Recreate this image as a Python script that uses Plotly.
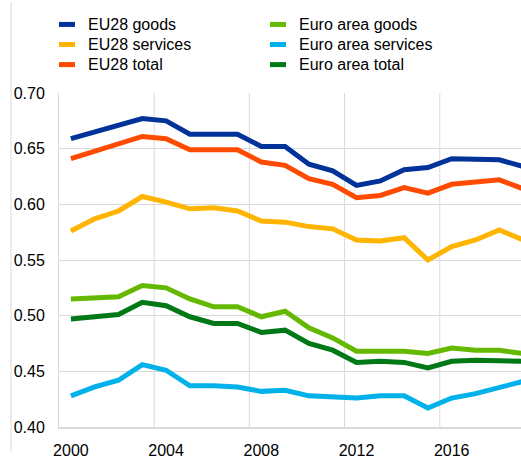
import plotly.graph_objects as go

years = list(range(2000, 2020))

eu28_goods = [0.659, 0.665, 0.672, 0.677, 0.675, 0.663, 0.663, 0.663, 0.652, 0.652,
              0.636, 0.630, 0.617, 0.621, 0.631, 0.633, 0.641, 0.640, 0.640, 0.634]
eu28_services = [0.576, 0.587, 0.594, 0.607, 0.602, 0.596, 0.597, 0.594, 0.585, 0.584,
                 0.580, 0.578, 0.568, 0.567, 0.570, 0.550, 0.562, 0.568, 0.577, 0.568]
eu28_total = [0.641, 0.648, 0.655, 0.661, 0.659, 0.649, 0.649, 0.649, 0.638, 0.635,
              0.623, 0.618, 0.606, 0.608, 0.615, 0.610, 0.618, 0.620, 0.622, 0.614]
ea_goods = [0.515, 0.516, 0.517, 0.527, 0.525, 0.515, 0.508, 0.508, 0.499, 0.504,
            0.489, 0.480, 0.468, 0.468, 0.468, 0.466, 0.471, 0.469, 0.469, 0.466]
ea_services = [0.428, 0.436, 0.442, 0.456, 0.451, 0.437, 0.437, 0.436, 0.432, 0.433,
               0.428, 0.427, 0.426, 0.428, 0.428, 0.417, 0.426, 0.430, 0.436, 0.441]
ea_total = [0.497, 0.499, 0.501, 0.512, 0.509, 0.499, 0.493, 0.493, 0.485, 0.487,
            0.475, 0.469, 0.458, 0.459, 0.458, 0.453, 0.459, 0.460, 0.460, 0.459]

series = [
    ("EU28 goods", eu28_goods, "#003299"),
    ("EU28 services", eu28_services, "#FFB400"),
    ("EU28 total", eu28_total, "#FF4B00"),
    ("Euro area goods", ea_goods, "#65B800"),
    ("Euro area services", ea_services, "#00B1EA"),
    ("Euro area total", ea_total, "#007816"),
]

x_tick_vals = [2000, 2004, 2008, 2012, 2016]
x_tick_text = ["2000", "2004", "2008", "2012", "2016"]
x_grid_vals = [2003.5, 2007.5, 2011.5, 2015.5]
y_tick_vals = [0.40, 0.45, 0.50, 0.55, 0.60, 0.65, 0.70]
y_tick_text = ["0.40", "0.45", "0.50", "0.55", "0.60", "0.65", "0.70"]

W, H = 521, 459
ML, MR, MT, MB = 59, 0, 93, 25
PW, PH = W - ML - MR, H - MT - MB

def px_x(p):
    return (p - ML) / PW

def px_y(p):
    return (H - MB - p) / PH

FONT = "Liberation Sans, Arial, sans-serif"

fig = go.Figure()
for name, vals, color in series:
    fig.add_trace(go.Scatter(x=years, y=vals, mode="lines", name=name,
                             line=dict(color=color, width=5), showlegend=False,
                             hoverinfo="skip"))

shapes = []
annotations = []
# vertical gridlines between category groups
for gx in x_grid_vals:
    shapes.append(dict(type="line", xref="x", yref="paper", x0=gx, x1=gx, y0=0, y1=1,
                       layer="below", line=dict(color="#d9d9d9", width=1)))
# manual legend: two columns, three rows
col_x = [59, 270]
row_y = [23, 43.5, 64]
for i, (name, vals, color) in enumerate(series):
    c, r = i // 3, i % 3
    x0 = col_x[c]
    y = row_y[r]
    shapes.append(dict(type="line", xref="paper", yref="paper",
                       x0=px_x(x0), x1=px_x(x0 + 16), y0=px_y(y), y1=px_y(y),
                       line=dict(color=color, width=5)))
    annotations.append(dict(xref="paper", yref="paper", x=px_x(x0 + 27), y=px_y(y),
                            text=name, showarrow=False, xanchor="left", yanchor="middle",
                            font=dict(family=FONT, size=16, color="#000000")))

# faint frame line at left
shapes.append(dict(type="line", xref="paper", yref="paper",
                   x0=px_x(11), x1=px_x(11), y0=px_y(0), y1=px_y(H),
                   line=dict(color="#d9d9d9", width=1)))

fig.update_layout(
    width=W, height=H,
    margin=dict(l=ML, r=MR, t=MT, b=MB, pad=0),
    plot_bgcolor="white", paper_bgcolor="white",
    font=dict(family=FONT, size=16, color="#000000"),
    shapes=shapes, annotations=annotations,
    showlegend=False,
    xaxis=dict(range=[1999.5, 1999.5 + PW / 23.8], tickmode="array",
               tickvals=x_tick_vals, ticktext=x_tick_text, showgrid=False,
               ticks="", showline=True, linecolor="#d9d9d9", linewidth=2,
               zeroline=False, ticklabelstandoff=8),
    yaxis=dict(range=[0.40, 0.70], tickmode="array", tickvals=y_tick_vals,
               ticktext=y_tick_text, showgrid=True, gridcolor="#d9d9d9", gridwidth=1,
               ticks="", showline=True, linecolor="#d9d9d9", linewidth=1,
               zeroline=False, ticklabelstandoff=10),
)

fig.write_html("out.html", config={"displayModeBar": False},
               post_script="document.body.style.margin='0';")
